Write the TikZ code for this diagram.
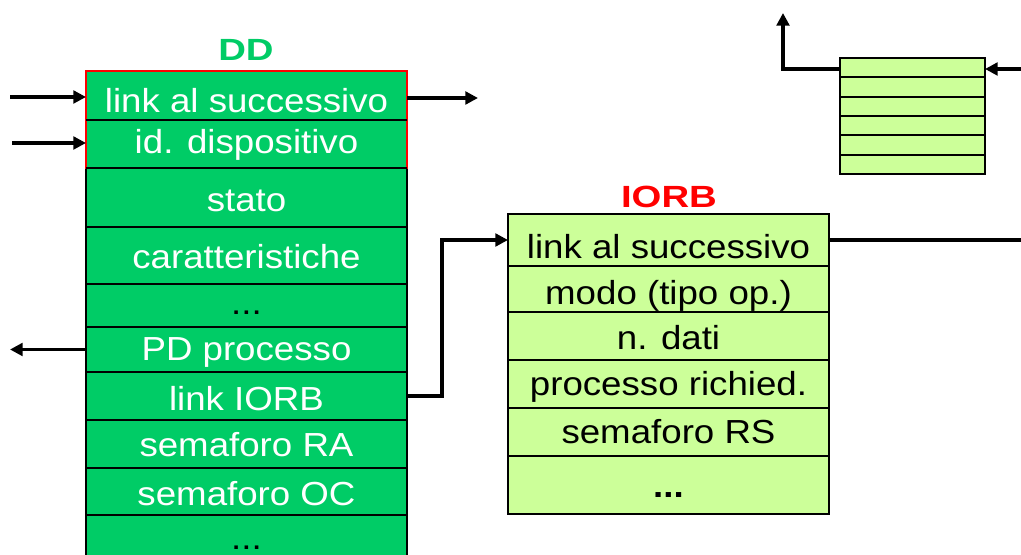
\documentclass[tikz,border=0pt]{standalone}
\usepackage{fontspec}
\setmainfont{Liberation Sans}[FakeStretch=1.1]
\newfontfamily\titlefont{Liberation Sans}[FakeStretch=1.25]
\usetikzlibrary{arrows.meta}

\definecolor{ddgreen}{RGB}{0,204,102}
\definecolor{iogreen}{RGB}{204,255,153}
\definecolor{iored}{RGB}{255,0,0}

\tikzset{every picture/.style={line width=1.5pt}}
\tikzset{
  cell/.style={draw=black, inner sep=0pt, outer sep=0pt, minimum width=240.75pt,
    font=\fontsize{25}{30}\selectfont, text depth=0pt, text height=15pt},
  ddcell/.style={cell, fill=ddgreen, text=white},
  iocell/.style={cell, fill=iogreen, text=black},
  qcell/.style={draw=black, fill=iogreen, inner sep=0pt, outer sep=0pt,
    minimum width=108.75pt, minimum height=14.5pt},
  title/.style={font=\titlefont\bfseries\fontsize{23}{28}\selectfont, inner sep=0pt},
  arr/.style={line width=2.5pt, -{Triangle[length=9.5pt,width=9.5pt]}},
}

\begin{document}
\begin{tikzpicture}[x=0.75pt,y=0.75pt,yscale=-1,xscale=1]
		\clip (0,0) rectangle (1021,555);
		
		% DD
		\node [title, text=ddgreen] (ddtitle) at (246,50) {DD};
		\node [ddcell, minimum height=36.75pt, text height=25.5pt] (dd1) at (246.5,95.5) {link al successivo};
		\node [ddcell, minimum height=36pt, text height=15pt] (dd2) at (246.5,144) {id. dispositivo};
		\node [ddcell, minimum height=44.25pt, text height=21.75pt] (dd3) at (246.5,197.5) {stato};
		\node [ddcell, minimum height=42.75pt, text height=19.5pt] (dd4) at (246.5,255.5) {caratteristiche};
		\node [ddcell, text=black, minimum height=32.25pt, text height=13.5pt] (dd5) at (246.5,305.5) {...};
		\node [ddcell, minimum height=33.75pt, text height=16.5pt] (dd6) at (246.5,349.5) {PD processo};
		\node [ddcell, minimum height=36pt, text height=21.75pt] (dd7) at (246.5,396) {link IORB};
		\node [ddcell, minimum height=36pt, text height=19.5pt] (dd8) at (246.5,444) {semaforo RA};
		\node [ddcell, minimum height=35.25pt, text height=21.75pt] (dd9) at (246.5,491.5) {semaforo OC};
		\node [ddcell, text=black, minimum height=37.5pt, text height=15pt] (dd10) at (246.5,540) {...};
		% red frame on the first two fields
		\draw [draw=iored] (dd1.north west) rectangle (dd2.south east);
		\draw (dd1.south west) -- (dd1.south east);
		\draw (dd2.south west) -- (dd2.south east);
		
		% IORB
		\node [title, text=iored] (iotitle) at (669,197) {IORB};
		\node [iocell, minimum height=39pt, text height=28.5pt] (io1) at (668.5,240) {link al successivo};
		\node [iocell, minimum height=34.5pt, text height=24pt] (io2) at (668.5,289) {modo (tipo op.)};
		\node [iocell, minimum height=36pt, text height=20.5pt] (io3) at (668.5,336) {n. dati};
		\node [iocell, minimum height=36pt, text height=17pt] (io4) at (668.5,384) {processo richied.};
		\node [iocell, minimum height=36pt, text height=18pt] (io5) at (668.5,432) {semaforo RS};
		\node [iocell, minimum height=43.5pt, text height=19pt] (io6) at (668.5,485) {\bfseries ...};
		
		% queue
		\foreach \i in {0,...,5}
			\node [qcell] (q\i) at (912.5,67.67+19.33*\i) {};
		
		% free ends
		\coordinate (in1) at (10,97);
		\coordinate (in2) at (12,143);
		\coordinate (ddout) at (478,98);
		\coordinate (pdout) at (10,349.5);
		\coordinate (ioout) at (1025,240);
		\coordinate (qup) at (783,13);
		\coordinate (qin) at (1025,69);
		
		% connectors
		\draw [arr] (in1) -- (in1 -| dd1.west);
		\draw [arr] (in2) -- (in2 -| dd2.west);
		\draw [arr] (ddout -| dd1.east) -- (ddout);
		\draw [arr] (dd6.west) -- (pdout);
		\draw [arr] (dd7.east) -- ++(35,0) |- (io1.west);
		\draw [line width=2.5pt] (io1.east) -- (ioout);
		\draw [arr] (qin -| q0.west) -| (qup);
		\draw [arr] (qin) -- (qin -| q0.east);
\end{tikzpicture}
\end{document}
